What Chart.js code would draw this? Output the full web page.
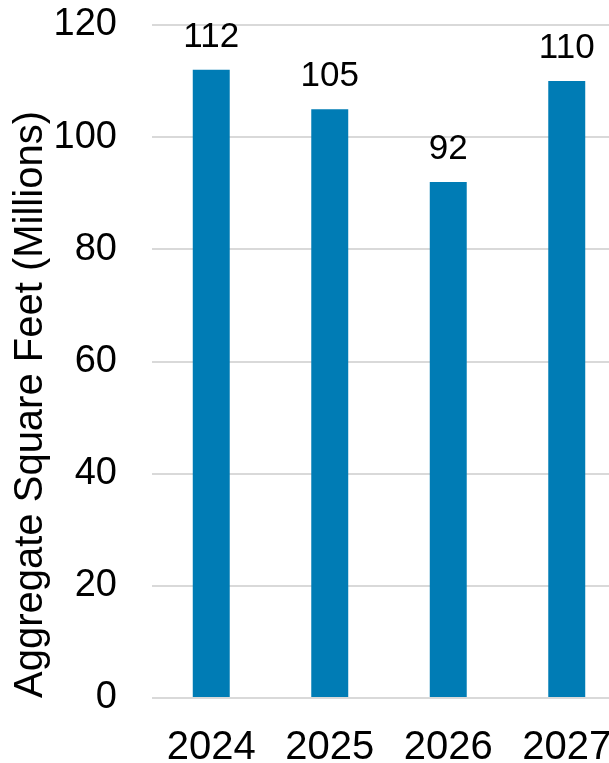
<!DOCTYPE html>
<html>
<head>
<meta charset="utf-8">
<script src="https://cdn.jsdelivr.net/npm/chart.js@4"></script>
<style>
  html, body { margin: 0; padding: 0; background: #fff; overflow: hidden; }
  #wrap { position: absolute; left: 0; top: 0; width: 630px; height: 763px; }
</style>
</head>
<body>
<div id="wrap"><canvas id="sqftChart"></canvas></div>
<script>
const years = ['2024', '2025', '2026', '2027'];
const squareFeet = [112, 105, 92, 110];
const yTicks = [0, 20, 40, 60, 80, 100, 120];

const fontFamily = '"Liberation Sans", Arial, sans-serif';

// draws the value above each bar
const barValues = {
  id: 'barValues',
  afterDatasetsDraw(chart) {
    const ctx = chart.ctx;
    const meta = chart.getDatasetMeta(0);
    ctx.save();
    ctx.font = '35px ' + fontFamily;
    ctx.fillStyle = '#000';
    ctx.textAlign = 'center';
    ctx.textBaseline = 'bottom';
    meta.data.forEach((bar, i) => {
      ctx.fillText(squareFeet[i], bar.x, bar.y - 15);
    });
    ctx.restore();
  }
};

const ctx = document.getElementById('sqftChart').getContext('2d');
const sqftChart = new Chart(ctx, {
  type: 'bar',
  data: {
    labels: years,
    datasets: [
      {
        label: 'Aggregate Square Feet',
        data: squareFeet,
        backgroundColor: '#007cb5',
        categoryPercentage: 1,
        barPercentage: 0.312,
      },
    ],
  },
  options: {
    responsive: true,
    maintainAspectRatio: false,
    animation: false,
    layout: { padding: { top: 0, right: 4, bottom: 0, left: 7 } },
    plugins: {
      legend: { display: false },
      tooltip: { enabled: false },
    },
    scales: {
      x: {
        afterFit: (axis) => { axis.height = 65; },
        grid: { display: false },
        border: { display: false },
        ticks: {
          color: '#000',
          padding: 18,
          font: { family: fontFamily, size: 40 },
        },
      },
      y: {
        min: 0,
        max: 120,
        afterBuildTicks: (axis) => { axis.ticks = yTicks.map((v) => ({ value: v })); },
        afterFit: (axis) => {
          axis.width = 145;
          axis.paddingTop = 25;
          axis.paddingBottom = 23;
        },
        grid: { color: '#d9d9d9', lineWidth: 2, drawTicks: false },
        border: { display: false },
        ticks: {
          color: '#000',
          padding: 35,
          font: { family: fontFamily, size: 38 },
        },
        title: {
          display: true,
          align: 'start',
          text: 'Aggregate Square Feet (Millions)',
          color: '#000',
          padding: 0,
          font: { family: fontFamily, size: 40 },
        },
      },
    },
  },
  plugins: [barValues],
});
</script>
</body>
</html>
